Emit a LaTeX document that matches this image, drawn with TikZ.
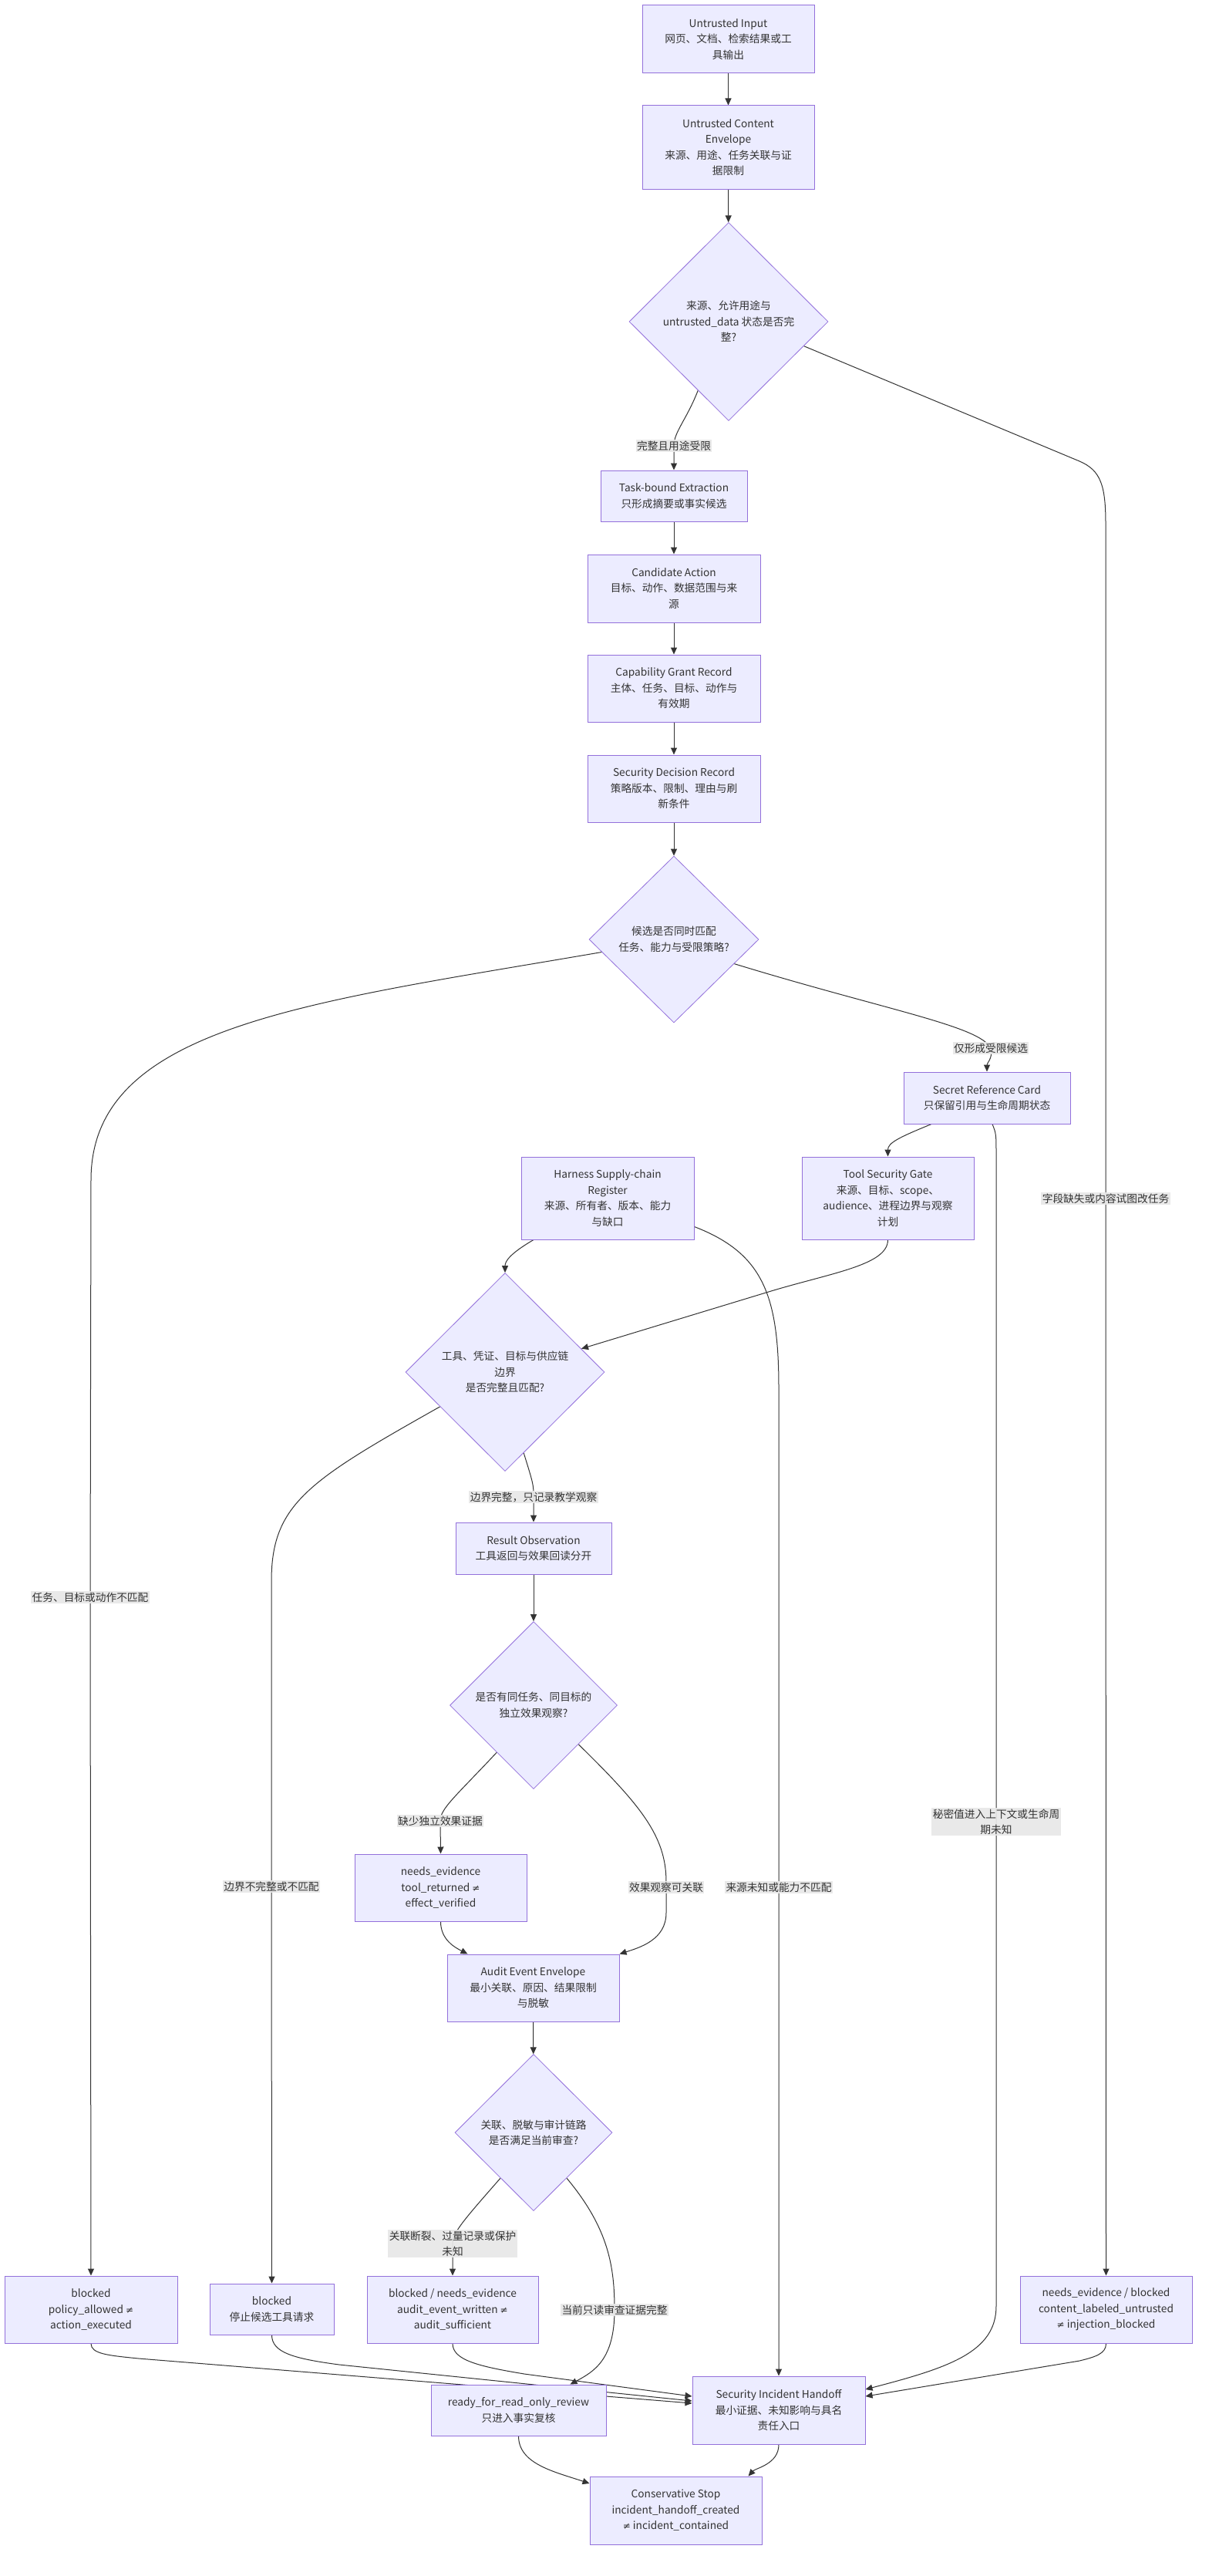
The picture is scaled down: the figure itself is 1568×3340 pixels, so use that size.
\documentclass[tikz,border=0pt]{standalone}
\usepackage{fontspec}
\setmainfont{Noto Sans CJK SC}
\newfontfamily\symfont{DejaVu Sans}
\usetikzlibrary{shapes.geometric,arrows.meta}
\pgfdeclarelayer{bg}
\pgfsetlayers{bg,main}
\definecolor{nodefill}{HTML}{ECECFF}
\definecolor{nodeline}{HTML}{9370DB}
\definecolor{edgecol}{HTML}{333333}
\definecolor{lblfill}{HTML}{E8E8E8}
\newcommand{\nqsym}{{\symfont\fontsize{12}{12}\selectfont ≠}}
\tikzset{
 box/.style={draw=nodeline, fill=nodefill, line width=1pt, align=center, inner sep=0pt, text=edgecol},
 dia/.style={diamond, aspect=1, draw=nodeline, fill=nodefill, line width=0.8pt, align=center, inner sep=0pt, text=edgecol},
 lbl/.style={fill=lblfill, fill opacity=0.92, text opacity=1, align=center, inner xsep=1.5pt, inner ysep=1.5pt, text=edgecol},
 edge/.style={draw=edgecol, line width=1pt, -{Triangle[length=9pt,width=8pt]}},
}
\begin{document}
\begin{tikzpicture}[x=1pt,y=-1pt,font=\fontsize{13.7}{20.5}\selectfont]
\useasboundingbox (0,0) rectangle (1568,3340);
\begin{pgfonlayer}{bg}
\fill[white] (0,0) rectangle (1568,3340);
\end{pgfonlayer}

% nodes
\node[box, minimum width=223pt, minimum height=88pt] (in) at (944.5,51) {Untrusted Input\\网页、文档、检索结果或工\\具输出};
\node[box, minimum width=223pt, minimum height=108pt] (env) at (944.5,191) {Untrusted Content\\Envelope\\来源、用途、任务关联与证\\据限制};
\node[dia, minimum width=258pt, minimum height=257pt] (d1) at (945,417) {来源、允许用途与\\untrusted\_data 状态是否完\\整?};
\node[box, minimum width=190pt, minimum height=66pt] (ext) at (874,643) {Task-bound Extraction\\只形成摘要或事实候选};
\node[box, minimum width=224pt, minimum height=88pt] (cand) at (874,763) {Candidate Action\\目标、动作、数据范围与来\\源};
\node[box, minimum width=224pt, minimum height=87pt] (grant) at (874,892.5) {Capability Grant Record\\主体、任务、目标、动作与\\有效期};
\node[box, minimum width=224pt, minimum height=87pt] (dec) at (874,1022.5) {Security Decision Record\\策略版本、限制、理由与刷\\新条件};
\node[dia, minimum width=220pt, minimum height=216pt] (d2) at (874,1218) {候选是否同时匹配\\任务、能力与受限策略?};
\node[box, minimum width=216pt, minimum height=67pt] (sec) at (1280,1423.5) {Secret Reference Card\\只保留引用与生命周期状态};
\node[box, minimum width=224pt, minimum height=107pt] (har) at (788,1553.5) {Harness Supply-chain\\Register\\来源、所有者、版本、能力\\与缺口};
\node[box, minimum width=223pt, minimum height=107pt] (gate) at (1151.5,1553.5) {Tool Security Gate\\来源、目标、scope、\\audience、进程边界与观察\\计划};
\node[dia, minimum width=258pt, minimum height=257pt] (d4) at (655,1779) {工具、凭证、目标与供应链\\边界\\是否完整且匹配?};
\node[box, minimum width=202pt, minimum height=67pt] (res) at (692,2007.5) {Result Observation\\工具返回与效果回读分开};
\node[dia, minimum width=217pt, minimum height=217pt] (d3) at (692,2211) {是否有同任务、同目标的\\独立效果观察?};
\node[box, minimum width=223pt, minimum height=87pt] (ne1) at (571.5,2447.5) {needs\_evidence\\tool\_returned \nqsym\\effect\_verified};
\node[box, minimum width=223pt, minimum height=87pt] (aud) at (691.5,2577.5) {Audit Event Envelope\\最小关联、原因、结果限制\\与脱敏};
\node[dia, minimum width=204pt, minimum height=203pt] (d5) at (692,2765) {关联、脱敏与审计链路\\是否满足当前审查?};
\node[box, minimum width=224pt, minimum height=87pt] (bpol) at (118,2994.5) {blocked\\policy\_allowed \nqsym\\action\_executed};
\node[box, minimum width=161pt, minimum height=66pt] (btool) at (352.5,2994) {blocked\\停止候选工具请求};
\node[box, minimum width=222pt, minimum height=87pt] (baud) at (587,2994.5) {blocked / needs\_evidence\\audit\_event\_written \nqsym\\audit\_sufficient};
\node[box, minimum width=223pt, minimum height=87pt] (ninj) at (1434.5,2994.5) {needs\_evidence / blocked\\content\_labeled\_untrusted\\\nqsym{} injection\_blocked};
\node[box, minimum width=227pt, minimum height=66pt] (ready) at (672.5,3125) {ready\_for\_read\_only\_review\\只进入事实复核};
\node[box, minimum width=224pt, minimum height=88pt] (hand) at (1010,3125) {Security Incident Handoff\\最小证据、未知影响与具名\\责任入口};
\node[box, minimum width=223pt, minimum height=88pt] (stop) at (876.5,3255) {Conservative Stop\\incident\_handoff\_created\\\nqsym{} incident\_contained};

% edge labels
\node[lbl] (l1) at (874,578) {完整且用途受限};
\node[lbl] (l2) at (1285,1359) {仅形成受限候选};
\node[lbl] (l3) at (692,1941) {边界完整，只记录教学观察};
\node[lbl] (l4) at (571,2361) {缺少独立效果证据};
\node[lbl] (l5) at (864,2447) {效果观察可关联};
\node[lbl] (l6) at (1010,2447) {来源未知或能力不匹配};
\node[lbl] (l7) at (1292,2362) {秘密值进入上下文或生命周\\期未知};
\node[lbl] (l8) at (1434,1554) {字段缺失或内容试图改任务};
\node[lbl] (l9) at (117,2071) {任务、目标或动作不匹配};
\node[lbl] (l10) at (352,2446) {边界不完整或不匹配};
\node[lbl] (l11) at (587,2909) {关联断裂、过量记录或保护\\未知};
\node[lbl] (l12) at (797,2995) {当前只读审查证据完整};

% edges
\begin{pgfonlayer}{bg}
\draw[edge] (in) -- (env);
\draw[edge] (env) -- (d1);
\draw[edge] (d1.246) .. controls (890,545) and (874,560) .. (l1.center) -- (ext.north);
\draw[edge] (d1.342) -- (1400,598) .. controls (1428,610) and (1434,630) .. (1434,680) -- (l8.center) -- (ninj.north);
\draw[edge] (ext) -- (cand);
\draw[edge] (cand) -- (grant);
\draw[edge] (grant) -- (dec);
\draw[edge] (dec) -- (d2);
\draw[edge] (d2.190) .. controls (400,1300) and (118,1330) .. (118,1530) -- (l9.center) -- (bpol.north);
\draw[edge] (d2.338) .. controls (1150,1310) and (1270,1330) .. (l2.center) .. controls (1288,1372) and (1280,1378) .. (sec.north);
\draw[edge] ([xshift=-72pt]sec.south) .. controls (1165,1475) and (1151.5,1482) .. (gate.north);
\draw[edge] ([xshift=7pt]sec.south) .. controls (1292,1470) .. (1292,1500) -- (l7.center) -- (1292,2990) .. controls (1292,3050) and (1230,3070) .. ([yshift=27pt]hand.east);
\draw[edge] ([xshift=-96pt]har.south) .. controls (662,1625) and (655,1635) .. (d4.north);
\draw[edge] (gate.south) .. controls (1151.5,1640) and (1080,1650) .. (1000,1674) -- (d4.17);
\draw[edge] ([yshift=-37pt]har.east) .. controls (990,1625) and (1010,1680) .. (1010,1800) -- (l6.center) -- (hand.north);
\draw[edge] (d4.208) .. controls (400,1920) and (352,1950) .. (352,2050) -- (l10.center) -- (btool.north);
\draw[edge] (d4.283) .. controls (692,1925) .. (l3.center) -- (res.north);
\draw[edge] (res) -- (d3);
\draw[edge] (d3.232) .. controls (590,2330) and (571,2345) .. (l4.center) -- (ne1.north);
\draw[edge] (d3.319) .. controls (830,2340) and (864,2380) .. (864,2440) -- (864,2480) .. controls (864,2515) and (830,2525) .. ([xshift=112pt]aud.north);
\draw[edge] (ne1.south) .. controls (571.5,2515) and (590,2525) .. ([xshift=-85pt]aud.north);
\draw[edge] (aud) -- (d5);
\draw[edge] (d5.234) .. controls (600,2880) and (587,2895) .. (l11.center) -- (baud.north);
\draw[edge] (d5.306) .. controls (790,2890) and (797,2940) .. (l12.center) .. controls (797,3060) and (770,3075) .. ([xshift=67pt]ready.north);
\draw[edge] (bpol.south) .. controls (118,3052) and (140,3054) .. (180,3058) -- ([yshift=9pt]hand.west);
\draw[edge] (btool.south) .. controls (352.5,3050) and (380,3058) .. (440,3066) -- ([yshift=12pt]hand.west);
\draw[edge] (baud.south) .. controls (587,3060) and (620,3068) .. (680,3078) -- ([yshift=18pt]hand.west);
\draw[edge] (ninj.south) .. controls (1434.5,3052) and (1420,3056) .. (1400,3061) -- ([yshift=18pt]hand.east);
\draw[edge] (ready.south) .. controls (672.5,3195) and (720,3205) .. ([yshift=35pt]stop.west);
\draw[edge] (hand.south) .. controls (1010,3195) and (980,3200) .. ([xshift=94pt]stop.north);
\end{pgfonlayer}
\end{tikzpicture}
\end{document}
